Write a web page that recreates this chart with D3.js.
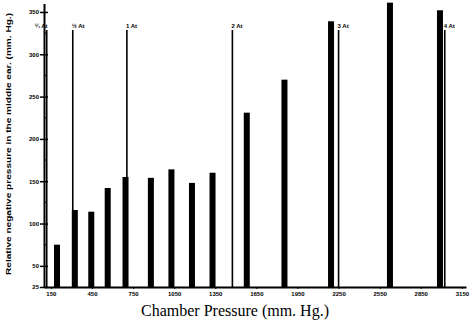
<!DOCTYPE html>
<html>
<head>
<meta charset="utf-8">
<script src="https://cdn.jsdelivr.net/npm/d3@7"></script>
<style>
  body { margin: 0; background: #fff; }
  .axis path, .axis line { stroke: #000; }
  .axis text { font-family: "Liberation Sans", sans-serif; font-weight: bold; fill: #000; }
</style>
</head>
<body>
<div id="myChart"></div>
<script>
//Global Variables
var w = 471;
var h = 325;
var barWidth = 6;

//data
var pressures = [195, 325, 445, 565, 695, 880, 1030, 1180, 1330, 1580, 1855, 2195, 2625, 2990];
var earPressure = [75, 116, 114, 142, 155, 154, 164, 148, 160, 231, 270, 339, 361, 352];

var atmLabels = ["\u00BC At", "\u00BD At", "1 At", "2 At", "3 At", "4 At"];
var atmValues = [120, 310, 705, 1475, 2250, 3025];

var xTicks = [150, 450, 750, 1050, 1350, 1650, 1950, 2250, 2550, 2850, 3150];
var yTicks = [25, 50, 100, 150, 200, 250, 300, 350];
var yMinorTicks = [75, 125, 175, 225, 275, 325];

//scales
var xScale = d3.scaleLinear()
  .domain([100, 3180])
  .range([44, 466]);

var yScale = d3.scaleLinear()
  .domain([25, 360])
  .range([287, 3.5]);

var svg = d3.select("#myChart")
  .append("svg")
  .attr("width", w)
  .attr("height", h);

svg.append("rect")
  .attr("width", w)
  .attr("height", h)
  .attr("fill", "#fff");

//atmosphere marker lines
svg.selectAll("line.atm")
  .data(atmValues)
  .enter()
  .append("line")
  .attr("class", "atm")
  .attr("x1", function(d) { return xScale(d); })
  .attr("x2", function(d) { return xScale(d); })
  .attr("y1", 30)
  .attr("y2", yScale(25))
  .attr("stroke", "#000")
  .attr("stroke-width", 1.6);

svg.selectAll("text.atm")
  .data(atmValues)
  .enter()
  .append("text")
  .attr("class", "atm")
  .attr("x", function(d, i) {
    //first label sits over the y axis
    return i == 0 ? xScale(d) - 12 : xScale(d) - 1;
  })
  .attr("y", 28)
  .attr("font-family", "Liberation Sans, sans-serif")
  .attr("font-weight", "bold")
  .attr("font-size", "6px")
  .text(function(d, i) { return atmLabels[i]; });

//bars
svg.selectAll("rect.bar")
  .data(pressures)
  .enter()
  .append("rect")
  .attr("class", "bar")
  .attr("x", function(d) { return xScale(d) - barWidth / 2; })
  .attr("y", function(d, i) { return yScale(earPressure[i]); })
  .attr("width", barWidth)
  .attr("height", function(d, i) { return yScale(25) - yScale(earPressure[i]); })
  .attr("fill", "#000");

//y axis
var yAxis = d3.axisLeft(yScale)
  .tickValues(yTicks)
  .tickSizeInner(4)
  .tickSizeOuter(0)
  .tickPadding(1);

var gy = svg.append("g")
  .attr("class", "axis")
  .attr("transform", "translate(" + xScale(100) + ",0)")
  .call(yAxis);

gy.select(".domain").attr("stroke-width", 2);
gy.selectAll(".tick line").attr("x1", 4).attr("stroke-width", 1.5);
gy.selectAll(".tick text").attr("font-size", "6px");

//minor ticks on the right side
gy.selectAll("line.minor")
  .data(yMinorTicks)
  .enter()
  .append("line")
  .attr("class", "minor")
  .attr("x1", 0)
  .attr("x2", 3)
  .attr("y1", function(d) { return yScale(d); })
  .attr("y2", function(d) { return yScale(d); })
  .attr("stroke", "#000")
  .attr("stroke-width", 1.2);

//x axis
var xAxis = d3.axisBottom(xScale)
  .tickValues(xTicks)
  .tickFormat(d3.format("d"))
  .tickSizeInner(2)
  .tickSizeOuter(0)
  .tickPadding(3);

var gx = svg.append("g")
  .attr("class", "axis")
  .attr("transform", "translate(0," + yScale(25) + ")")
  .call(xAxis);

gx.select(".domain").attr("stroke-width", 2);
gx.selectAll(".tick text").attr("font-size", "6px");

//axis titles
svg.append("text")
  .attr("x", 235)
  .attr("y", 316)
  .attr("text-anchor", "middle")
  .attr("font-family", "Liberation Serif, serif")
  .attr("font-size", "16px")
  .attr("fill", "#000")
  .text("Chamber Pressure (mm. Hg.)");

svg.append("text")
  .attr("transform", "translate(11,144) rotate(-90)")
  .attr("text-anchor", "middle")
  .attr("font-family", "Liberation Sans, sans-serif")
  .attr("font-weight", "bold")
  .attr("font-size", "8px")
  .attr("textLength", 262)
  .attr("lengthAdjust", "spacingAndGlyphs")
  .attr("fill", "#000")
  .text("Relative negative pressure in the middle ear. (mm. Hg.)");
</script>
</body>
</html>
